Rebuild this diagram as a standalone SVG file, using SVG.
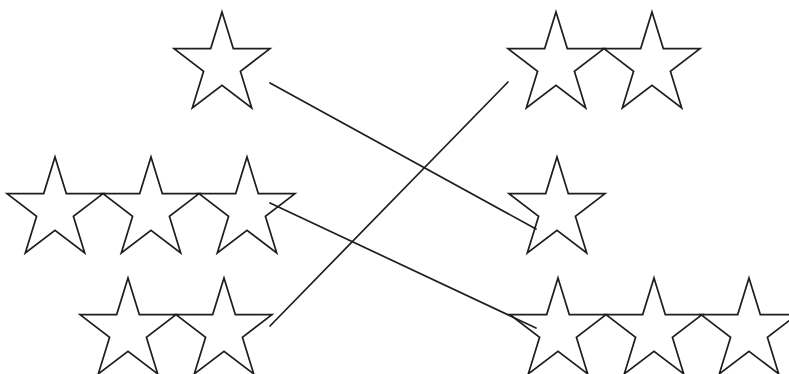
<svg xmlns="http://www.w3.org/2000/svg" xmlns:xlink="http://www.w3.org/1999/xlink" width="789" height="374" viewBox="0 0 789 374">
<style>
.star{fill:none;stroke:#1e1e1e;stroke-width:1.7;stroke-linejoin:miter}
.conn{fill:none;stroke:#1e1e1e;stroke-width:1.7;stroke-linecap:round}
</style>
<defs>
<path id="star" d="M0,-53 L11.3,-16.4 L48,-16.4 L18.4,6.3 L29.7,42.9 L0,20.3 L-29.7,42.9 L-18.4,6.3 L-48,-16.4 L-11.3,-16.4 Z"/>
</defs>
<rect width="789" height="374" fill="#ffffff"/>
<g id="left-1">
<use xlink:href="#star" class="star" x="222" y="65"/>
</g>
<g id="left-3">
<use xlink:href="#star" class="star" x="55" y="210"/>
<use xlink:href="#star" class="star" x="151" y="210"/>
<use xlink:href="#star" class="star" x="247" y="210"/>
</g>
<g id="left-2">
<use xlink:href="#star" class="star" x="128" y="331"/>
<use xlink:href="#star" class="star" x="224" y="331"/>
</g>
<g id="right-2">
<use xlink:href="#star" class="star" x="556" y="65"/>
<use xlink:href="#star" class="star" x="652" y="65"/>
</g>
<g id="right-1">
<use xlink:href="#star" class="star" x="557" y="210"/>
</g>
<g id="right-3">
<use xlink:href="#star" class="star" x="558" y="331"/>
<use xlink:href="#star" class="star" x="654" y="331"/>
<use xlink:href="#star" class="star" x="749" y="331"/>
</g>
<g id="connectors">
<line class="conn" x1="270" y1="83" x2="536" y2="229"/>
<line class="conn" x1="508" y1="82" x2="270" y2="326"/>
<line class="conn" x1="270" y1="203" x2="536" y2="328"/>
</g>
</svg>
